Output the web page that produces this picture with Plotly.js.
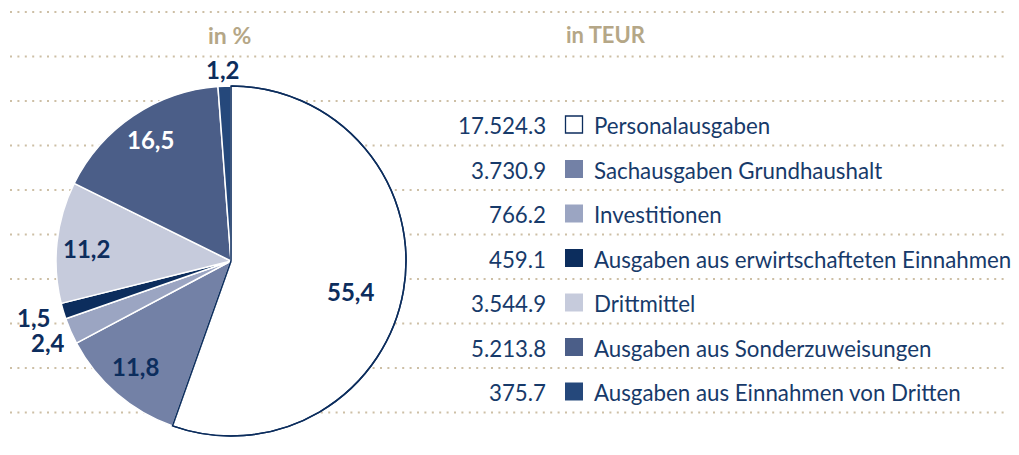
<!DOCTYPE html>
<html><head><meta charset="utf-8">
<script src="https://cdn.plot.ly/plotly-3.0.1.min.js"></script>
<style>html,body{margin:0;padding:0;background:#fff}</style>
</head><body><div id="chart" style="width:1019px;height:455px"></div>
<script>
// ---- data ----
const categories = ['Personalausgaben','Sachausgaben Grundhaushalt','Investitionen','Ausgaben aus erwirtschafteten Einnahmen','Drittmittel','Ausgaben aus Sonderzuweisungen','Ausgaben aus Einnahmen von Dritten'];
const valuesTEUR = [17524.3, 3730.9, 766.2, 459.1, 3544.9, 5213.8, 375.7];
const headerPercent = 'in %';
const headerTEUR = 'in TEUR';

// ---- styles ----
const sliceColors = ['#ffffff','#7381a6','#9ba5c2','#0c2d5d','#c6cbdc','#4b5e88','#25487b'];
const navy = '#0c2d5d';
const textNavy = '#173a6a';
const tan = '#b5a787';
const dotColor = '#cdbfa5';
const percentLabelColors = [navy, navy, navy, navy, navy, '#ffffff', navy];
const percentLabelRadius = [0.703, 0.813, 1.146, 1.176, 0.829, 0.832, 1.095];
const percentLabelAngleShift = [4.8, 1.1, -0.5, 0.8, -1.4, 0.2, -0.3]; // degrees
const percentLabelBoxH = [null, null, 25, 25, null, null, null];

const W = 1019, H = 455;
const cx = 231, cy = 261, R = 175;
const px = x => x / W, py = y => 1 - y / H;

const total = valuesTEUR.reduce((a, b) => a + b, 0);
const pctText = valuesTEUR.map(v => (v / total * 100).toFixed(1).replace('.', ','));
function fmtTEUR(v) {
  const parts = v.toFixed(1).split('.');
  return parts[0].replace(/\B(?=(\d{3})+(?!\d))/g, '.') + '.' + parts[1];
}

const domain = { x: [px(cx - R), px(cx + R)], y: [py(cy + R), py(cy - R)] };

const pieMain = {
  type: 'pie', values: valuesTEUR, labels: categories, sort: false,
  direction: 'clockwise', rotation: 0, textinfo: 'none', hoverinfo: 'skip',
  showlegend: false, domain: domain,
  marker: { colors: sliceColors, line: { color: categories.map((c, i) => i === 0 ? navy : '#ffffff'), width: 1.5 } }
};
const pieOutline = {
  type: 'pie', values: valuesTEUR, labels: categories, sort: false,
  direction: 'clockwise', rotation: 0, textinfo: 'none', hoverinfo: 'skip',
  showlegend: false, domain: domain,
  marker: { colors: categories.map(() => 'rgba(0,0,0,0)'),
            line: { color: categories.map((c, i) => i === 0 ? navy : 'rgba(0,0,0,0)'),
                    width: categories.map((c, i) => i === 0 ? 1.5 : 0) } }
};

const shapes = [];
const annotations = [];

// dotted guide lines
const lineTop = 12, lineStep = 44.5, nLines = 10;
for (let k = 0; k < nLines; k++) {
  const y = lineTop + k * lineStep;
  shapes.push({ type: 'line', xref: 'paper', yref: 'paper', x0: px(10), x1: px(1006), y0: py(y), y1: py(y),
    line: { color: dotColor, width: 2, dash: '2px,5.4px' }, layer: 'below' });
}

// headers
annotations.push({ xref: 'paper', yref: 'paper', x: px(229), y: py(35), text: headerPercent, showarrow: false,
  xanchor: 'center', yanchor: 'middle', font: { family: 'Lato', size: 23, weight: 700, color: tan } });
annotations.push({ xref: 'paper', yref: 'paper', x: px(564), y: py(35), text: headerTEUR, showarrow: false,
  xanchor: 'left', yanchor: 'middle', font: { family: 'Lato', size: 22, weight: 700, color: tan } });

// percent labels along slice mid-angles
let cum = 0;
valuesTEUR.forEach((v, i) => {
  const mid = ((cum + v / 2) / total * 360 + percentLabelAngleShift[i]) * Math.PI / 180;
  cum += v;
  const r = percentLabelRadius[i] * R;
  const x = cx + r * Math.sin(mid), y = cy - r * Math.cos(mid);
  const a = { xref: 'paper', yref: 'paper', x: px(x), y: py(y), text: pctText[i], showarrow: false,
    xanchor: 'center', yanchor: 'middle', font: { family: 'Lato', size: 24, weight: 700, color: percentLabelColors[i] } };
  if (percentLabelBoxH[i]) a.height = percentLabelBoxH[i];
  annotations.push(a);
});

// legend rows
const rowTop = 124.5, rowStep = 44.5;
categories.forEach((c, i) => {
  const y = rowTop + i * rowStep;
  annotations.push({ xref: 'paper', yref: 'paper', x: px(548), y: py(y + 1), text: fmtTEUR(valuesTEUR[i]), showarrow: false,
    xanchor: 'right', yanchor: 'middle', font: { family: 'Lato', size: 22.3, color: textNavy } });
  annotations.push({ xref: 'paper', yref: 'paper', x: px(592), y: py(y + 1), text: c, showarrow: false,
    xanchor: 'left', yanchor: 'middle', font: { family: 'Lato', size: 22.3, color: textNavy } });
  const isWhite = sliceColors[i] === '#ffffff';
  shapes.push({ type: 'rect', xref: 'paper', yref: 'paper',
    x0: px(isWhite ? 565.5 : 565), x1: px(isWhite ? 582.5 : 583), y0: py(y - (isWhite ? 8.5 : 9)), y1: py(y + (isWhite ? 8.5 : 9)),
    fillcolor: sliceColors[i], line: { color: isWhite ? navy : sliceColors[i], width: isWhite ? 1.3 : 0 } });
});

const layout = {
  width: W, height: H, margin: { l: 0, r: 0, t: 0, b: 0 },
  paper_bgcolor: '#ffffff', plot_bgcolor: '#ffffff',
  showlegend: false, shapes: shapes, annotations: annotations,
  font: { family: 'Lato' }
};

Plotly.newPlot('chart', [pieMain, pieOutline], layout, { displayModeBar: false, staticPlot: true });
</script></body></html>
